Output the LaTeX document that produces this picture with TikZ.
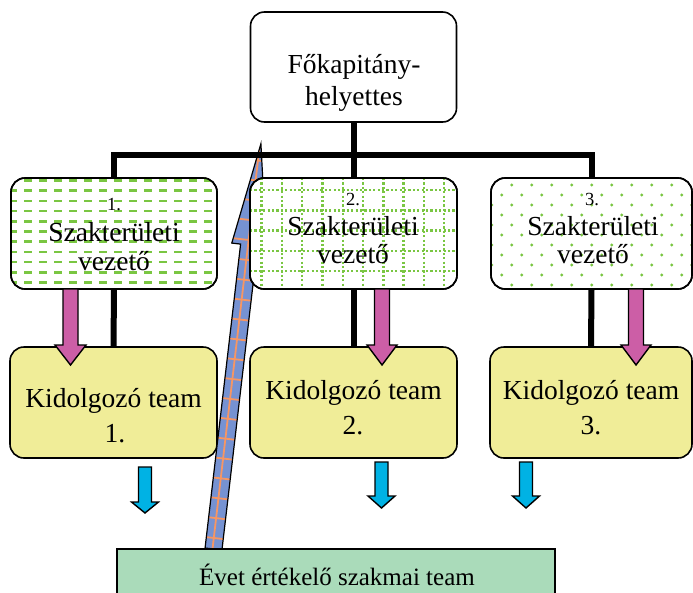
\documentclass[tikz,border=0pt]{standalone}
\usepackage{fontspec}
\setmainfont{Liberation Serif}
\definecolor{patgreen}{RGB}{122,198,66}
\definecolor{teamyellow}{RGB}{240,237,152}
\definecolor{magentaarrow}{RGB}{204,94,166}
\definecolor{cyanarrow}{RGB}{0,178,228}
\definecolor{arrowblue}{RGB}{118,146,210}
\definecolor{gridorange}{RGB}{246,150,100}
\definecolor{evalgreen}{RGB}{170,219,186}

% block arrow pointing down: style, x, top y, head base y, tip y, shaft half width, head half width
\newcommand\downblock[7]{%
  \draw[#1] (#2-#6,#3) -- (#2-#6,#4) -- (#2-#7,#4) -- (#2,#5) -- (#2+#7,#4)
    -- (#2+#6,#4) -- (#2+#6,#3) -- cycle;}

\begin{document}
\begin{tikzpicture}[x=1pt,y=-1pt,
  box/.style={draw, line width=1.6pt, rounded corners=14pt, inner sep=0pt,
    outer sep=0pt, fill=white},
  teambox/.style={box, fill=teamyellow},
  conn/.style={line width=6pt, line join=miter},
  txt/.style={anchor=base, inner sep=0pt, font=\fontsize{27.5}{30}\selectfont},
  numtxt/.style={anchor=base, inner sep=0pt, font=\fontsize{18.5}{20}\selectfont},
  evaltxt/.style={anchor=base, inner sep=0pt, font=\fontsize{25}{28}\selectfont},
  magblock/.style={fill=magentaarrow, draw, line width=1.4pt, line join=miter},
  cyanblock/.style={fill=cyanarrow, draw, line width=1.4pt, line join=miter},
  gridline/.style={gridorange, line width=1.8pt}]
\useasboundingbox (0,0) rectangle (693,592);

% chief box
\node[box, minimum width=206pt, minimum height=110pt] (chief) at (353.5,67) {};

% working teams
\node[teambox, minimum width=207pt, minimum height=111pt] (T1) at (113.5,402.5) {};
\node[teambox, minimum width=207pt, minimum height=111pt] (T2) at (353.5,402.5) {};
\node[teambox, minimum width=202pt, minimum height=111pt] (T3) at (591,402.5) {};

% slanted evaluation arrow, drawn in its own rotated frame
\begin{scope}[shift={(213.5,549)}, x={(0.9932pt,-0.1162pt)}, y={(0.1162pt,0.9932pt)}]
  \def\evalarrow{(-8.5,0) -- (-8.5,306) -- (-17.4,306) -- (0,408) -- (17.4,306) -- (8.5,306) -- (8.5,0) -- cycle}
  \fill[arrowblue] \evalarrow;
  \begin{scope}
    \clip \evalarrow;
    \foreach \v in {11,31,...,391} \draw[gridline] (-20,\v) -- (20,\v);
    \draw[gridline] (-1,0) -- (-1,410);
  \end{scope}
  \draw[line width=1.2pt, line join=miter] \evalarrow;
\end{scope}

% area leaders
\node[box, minimum width=206pt, minimum height=111pt] (L1) at (114,233.5) {};
\node[box, minimum width=207pt, minimum height=111pt] (L2) at (353.5,233.5) {};
\node[box, minimum width=201pt, minimum height=111pt] (L3) at (591.5,233.5) {};

% leader 1: rows of short dashes
\begin{scope}
  \clip[rounded corners=14pt] (L1.south west) rectangle (L1.north east);
  \foreach \i in {0,...,10} {
    \pgfmathsetmacro\yy{180.5+10.2*\i}
    \draw[patgreen, line width=2.6pt, dash pattern=on 8pt off 7pt, dash phase=2pt]
      (11,\yy) -- (220,\yy);
  }
\end{scope}
\draw[line width=1.6pt, rounded corners=14pt] (L1.south west) rectangle (L1.north east);

% leader 2: dotted grid
\begin{scope}
  \clip[rounded corners=14pt] (L2.south west) rectangle (L2.north east);
  \foreach \k in {0,...,9}
    \draw[patgreen, line width=2.4pt, dash pattern=on 2.2pt off 2.2pt]
      (261.5+20.3*\k,178) -- (261.5+20.3*\k,290);
  \foreach \k in {0,...,4}
    \draw[patgreen, line width=2.4pt, dash pattern=on 2.2pt off 2.2pt]
      (250,190+20.3*\k) -- (458,190+20.3*\k);
\end{scope}
\draw[line width=1.6pt, rounded corners=14pt] (L2.south west) rectangle (L2.north east);

% leader 3: scattered dots
\begin{scope}
  \clip[rounded corners=14pt] (L3.south west) rectangle (L3.north east);
  \foreach \j in {0,...,10}
    \foreach \i in {0,...,10}
      \fill[patgreen] ({491.7+20*\i-10*mod(\j,2)},{185+10*\j}) circle (1.6pt);
\end{scope}
\draw[line width=1.6pt, rounded corners=14pt] (L3.south west) rectangle (L3.north east);

% organisational lines
\coordinate (hub) at (353.5,155);
\draw[conn] (chief.south) -- (hub);
\draw[conn] (L1.north) -- (L1.north |- hub) -- (L3.north |- hub) -- (L3.north);
\draw[conn] (hub) -- (L2.north);
\draw[conn] (L1.south) -- (T1.north);
\draw[conn] (L2.south) -- (T2.north);
\draw[conn] (L3.south) -- (T3.north);

% tasks handed down to the teams
\downblock{magblock}{70.5}{289}{345}{365}{7.5}{15.5}
\downblock{magblock}{382}{289}{345}{365}{7.5}{15}
\downblock{magblock}{636}{289}{345}{365}{7.5}{15}

% results passed on
\downblock{cyanblock}{145}{467}{502}{513}{6.5}{13.5}
\downblock{cyanblock}{381.5}{462}{496}{508}{6.5}{13.5}
\downblock{cyanblock}{526}{462}{496}{508}{6.5}{13.5}

% evaluation team
\node[draw, line width=1.6pt, fill=evalgreen, inner sep=0pt, outer sep=0pt,
  minimum width=438pt, minimum height=72pt] (eval) at (336,585) {};

% labels
\node[txt] (chiefA) at (354,73) {Főkapitány-};
\node[txt] (chiefB) at (354,105) {helyettes};

\node[numtxt] (L1n) at (114,210) {1.};
\node[txt] (L1a) at (114,241.5) {Szakterületi};
\node[txt] (L1b) at (114,270) {vezető};
\node[numtxt] (L2n) at (353,205) {2.};
\node[txt] (L2a) at (353,235) {Szakterületi};
\node[txt] (L2b) at (353,263) {vezető};
\node[numtxt] (L3n) at (592,205) {3.};
\node[txt] (L3a) at (593,235) {Szakterületi};
\node[txt] (L3b) at (593,263) {vezető};

\node[txt] (T1a) at (113.5,407) {Kidolgozó team};
\node[txt] (T1b) at (115,442) {1.};
\node[txt] (T2a) at (353.5,399) {Kidolgozó team};
\node[txt] (T2b) at (353,434) {2.};
\node[txt] (T3a) at (591,399) {Kidolgozó team};
\node[txt] (T3b) at (591,434) {3.};

\node[evaltxt] (evalA) at (337,585) {Évet értékelő szakmai team};
\end{tikzpicture}
\end{document}
